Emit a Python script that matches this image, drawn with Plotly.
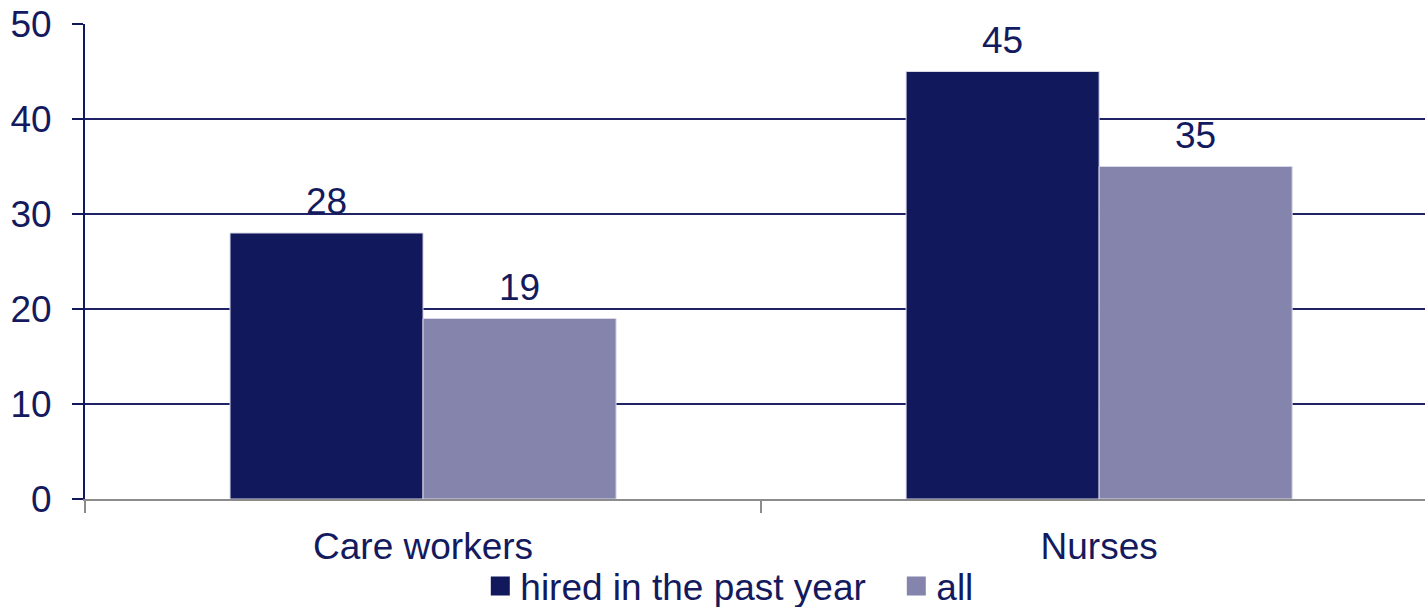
import plotly.graph_objects as go

# Chart data
categories = ["Care workers", "Nurses"]
series_names = ["hired in the past year", "all"]
hired_past_year = [28, 45]
all_staff = [19, 35]
y_ticks = [0, 10, 20, 30, 40, 50]

NAVY = "#12185C"
LAVENDER = "#8484AC"
TEXT = "#141A5E"
FONT = "Liberation Sans, Arial, sans-serif"
FS = 37

BAR_W = 0.2855
values = [hired_past_year, all_staff]
colors = [NAVY, LAVENDER]

fig = go.Figure()
for name, vals, col in zip(series_names, values, colors):
    fig.add_trace(go.Bar(
        name=name, x=categories, y=vals, width=BAR_W,
        marker=dict(color=col, line=dict(color="#D8D8E6", width=1)),
        showlegend=False,
    ))
    # legend entry with a square swatch
    fig.add_trace(go.Scatter(
        name=name, x=[None], y=[None], mode="markers",
        marker=dict(symbol="square", size=16, color=col,
                    line=dict(color=col, width=3)),
        showlegend=True,
    ))

# value labels above each bar
annotations = []
offsets = [-BAR_W / 2, BAR_W / 2]
for vals, off in zip(values, offsets):
    for i, v in enumerate(vals):
        annotations.append(dict(
            x=i + off, y=v, xref="x", yref="y", text=str(v),
            showarrow=False, yanchor="bottom", yshift=9,
            font=dict(family=FONT, size=FS, color=TEXT),
        ))

fig.update_layout(
    width=1425, height=607,
    margin=dict(l=85, r=0, t=24, b=108, autoexpand=False),
    paper_bgcolor="white", plot_bgcolor="white",
    barmode="group", bargap=0.429, bargroupgap=0,
    font=dict(family=FONT, size=FS, color=TEXT),
    annotations=annotations,
    legend=dict(
        orientation="h", xref="paper", yref="paper",
        x=0.295, xanchor="left", y=-0.184, yanchor="middle",
        font=dict(family=FONT, size=FS, color=TEXT),
        itemwidth=30, entrywidth=371, entrywidthmode="pixels",
        tracegroupgap=0, bgcolor="rgba(0,0,0,0)",
    ),
    xaxis=dict(
        type="category", range=[-0.5, 1.482], automargin=False,
        showline=True, linecolor="#8C8C8C", linewidth=2,
        ticks="outside", tickson="boundaries", ticklen=12,
        tickcolor="#8C8C8C", tickwidth=2, ticklabelstandoff=14,
        showgrid=False, zeroline=False,
        tickfont=dict(family=FONT, size=FS, color=TEXT),
    ),
    yaxis=dict(
        range=[0, 50], tickvals=y_ticks, automargin=False,
        showline=True, linecolor=NAVY, linewidth=2,
        ticks="outside", ticklen=11, tickcolor=NAVY, tickwidth=2,
        showgrid=True, gridcolor="#1F2366", gridwidth=2,
        zeroline=False, ticklabelstandoff=13,
        tickfont=dict(family=FONT, size=FS, color=TEXT),
    ),
)

fig.write_html("out.html")
